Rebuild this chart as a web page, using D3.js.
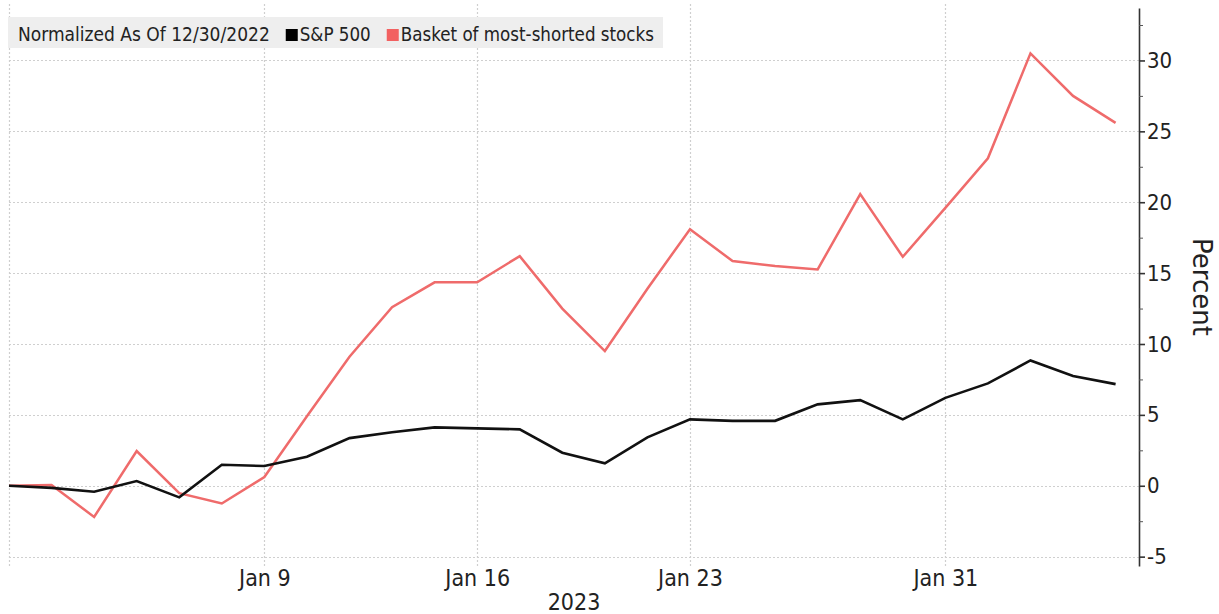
<!DOCTYPE html>
<html>
<head>
<meta charset="utf-8">
<script src="https://cdn.jsdelivr.net/npm/d3@7"></script>
<style>
  html, body { margin: 0; padding: 0; background: #ffffff; }
  svg { display: block; }
</style>
</head>
<body>
<svg id="chart" width="1219" height="614"></svg>
<script>
// ---------- data ----------
const dates = ["Dec 30","Jan 2","Jan 3","Jan 4","Jan 5","Jan 6","Jan 9","Jan 10","Jan 11","Jan 12","Jan 13",
  "Jan 16","Jan 17","Jan 18","Jan 19","Jan 20","Jan 23","Jan 24","Jan 25","Jan 26","Jan 27",
  "Jan 30","Jan 31","Feb 1","Feb 2","Feb 3","Feb 6"];
const sp500 = [0, -0.15, -0.42, 0.33, -0.82, 1.48, 1.39, 2.05, 3.36, 3.77, 4.12,
  4.05, 3.98, 2.33, 1.58, 3.41, 4.68, 4.58, 4.58, 5.74, 6.04,
  4.68, 6.2, 7.22, 8.84, 7.74, 7.17];
const basket = [0, 0.05, -2.2, 2.45, -0.52, -1.25, 0.62, 4.9, 9.1, 12.6, 14.35,
  14.35, 16.2, 12.5, 9.5, 13.9, 18.1, 15.85, 15.5, 15.26, 20.57,
  16.15, 19.6, 23.1, 30.5, 27.5, 25.6];
const xTickLabels = ["Jan 9", "Jan 16", "Jan 23", "Jan 31"];
const yTickValues = [-5, 0, 5, 10, 15, 20, 25, 30];
const yMinorValues = [-2.5, 2.5, 7.5, 12.5, 17.5, 22.5, 27.5, 32.5];
const yearLabel = "2023";
const yAxisTitle = "Percent";
const legendTitle = "Normalized As Of 12/30/2022";
const seriesNames = ["S&P 500", "Basket of most-shorted stocks"];
const seriesColors = ["#111111", "#ef6b6b"];

// ---------- layout ----------
const svg = d3.select("#chart");
const plotL = 9, plotR = 1139, plotT = 8, plotB = 566;
const FONT = "'DejaVu Sans Condensed', 'DejaVu Sans', sans-serif";

const x = d3.scaleLinear().domain([0, 26.55]).range([plotL, plotR]);
const y = d3.scaleLinear().domain([-5.66, 33.7]).range([plotB, plotT]);

svg.append("rect").attr("width", 1219).attr("height", 614).attr("fill", "#ffffff");

// grid lines
const grid = svg.append("g").attr("class", "grid");
grid.selectAll("line.h").data(yTickValues).join("line")
  .attr("class", "h")
  .attr("x1", plotL).attr("x2", plotR)
  .attr("y1", d => Math.round(y(d)) + 0.5).attr("y2", d => Math.round(y(d)) + 0.5)
  .attr("stroke", "#cfcfcf").attr("stroke-width", 1.2).attr("stroke-dasharray", "2,2");

const xTickIdx = xTickLabels.map(l => dates.indexOf(l));
grid.selectAll("line.v").data([0].concat(xTickIdx)).join("line")
  .attr("class", "v")
  .attr("x1", d => Math.round(x(d)) + 0.5).attr("x2", d => Math.round(x(d)) + 0.5)
  .attr("y1", 4).attr("y2", plotB)
  .attr("stroke", "#cfcfcf").attr("stroke-width", 1.2).attr("stroke-dasharray", "2,2");

// lines
const line = d3.line().x((d, i) => x(i)).y(d => y(d));
svg.selectAll("path.series").data([basket, sp500]).join("path")
  .attr("class", "series")
  .attr("d", d => line(d))
  .attr("fill", "none")
  .attr("stroke", (d, i) => i === 0 ? seriesColors[1] : seriesColors[0])
  .attr("stroke-width", (d, i) => i === 0 ? 2.5 : 2.6)
  .attr("stroke-linejoin", "miter");

// right axis
const yAxis = svg.append("g").attr("transform", `translate(${plotR},0)`)
  .call(d3.axisRight(y).tickValues(yTickValues).tickSize(6).tickSizeOuter(0).tickPadding(2)
    .tickFormat(d => d));
yAxis.select(".domain").attr("stroke", "#333").attr("stroke-width", 1.6);
yAxis.selectAll(".tick line").attr("stroke", "#333").attr("stroke-width", 1.6);
yAxis.selectAll(".tick text").attr("font-family", FONT).attr("font-size", 22).attr("fill", "#222");

const yMinor = svg.append("g").attr("transform", `translate(${plotR},0)`)
  .call(d3.axisRight(y).tickValues(yMinorValues).tickSize(4).tickSizeOuter(0).tickFormat(""));
yMinor.select(".domain").remove();
yMinor.selectAll(".tick line").attr("stroke", "#555").attr("stroke-width", 1);

svg.append("text")
  .attr("transform", "translate(1193,287) rotate(90)")
  .attr("text-anchor", "middle")
  .attr("font-family", "'DejaVu Sans', sans-serif")
  .attr("font-size", 26).attr("fill", "#222")
  .text(yAxisTitle);

// bottom axis labels
const xAxis = svg.append("g").attr("transform", `translate(0,${plotB})`)
  .call(d3.axisBottom(x).tickValues(xTickIdx).tickSize(0).tickPadding(0)
    .tickFormat((d, i) => xTickLabels[i]));
xAxis.select(".domain").remove();
xAxis.selectAll(".tick text").attr("dy", null).attr("y", 20)
  .attr("font-family", FONT).attr("font-size", 23).attr("fill", "#222");

svg.append("text")
  .attr("x", (plotL + plotR) / 2).attr("y", 610)
  .attr("text-anchor", "middle")
  .attr("font-family", FONT).attr("font-size", 23).attr("fill", "#222")
  .text(yearLabel);

// legend
const lg = svg.append("g");
const lgRect = lg.append("rect").attr("x", 8).attr("y", 17).attr("height", 31).attr("fill", "#eeeeee");
const base = 41;
let cx = 18;
const t0 = lg.append("text").attr("x", cx).attr("y", base)
  .attr("font-family", FONT).attr("font-size", 19).attr("fill", "#222").text(legendTitle);
cx += t0.node().getComputedTextLength() + 16;
seriesNames.forEach((name, i) => {
  lg.append("rect").attr("x", cx).attr("y", base - 12).attr("width", 12).attr("height", 12)
    .attr("fill", i === 0 ? "#000" : "#f26161");
  cx += 14;
  const t = lg.append("text").attr("x", cx).attr("y", base)
    .attr("font-family", FONT).attr("font-size", 18.6).attr("fill", "#222").text(name);
  cx += t.node().getComputedTextLength() + 16;
});
lgRect.attr("width", cx - 16 + 9 - 8);
</script>
</body>
</html>
